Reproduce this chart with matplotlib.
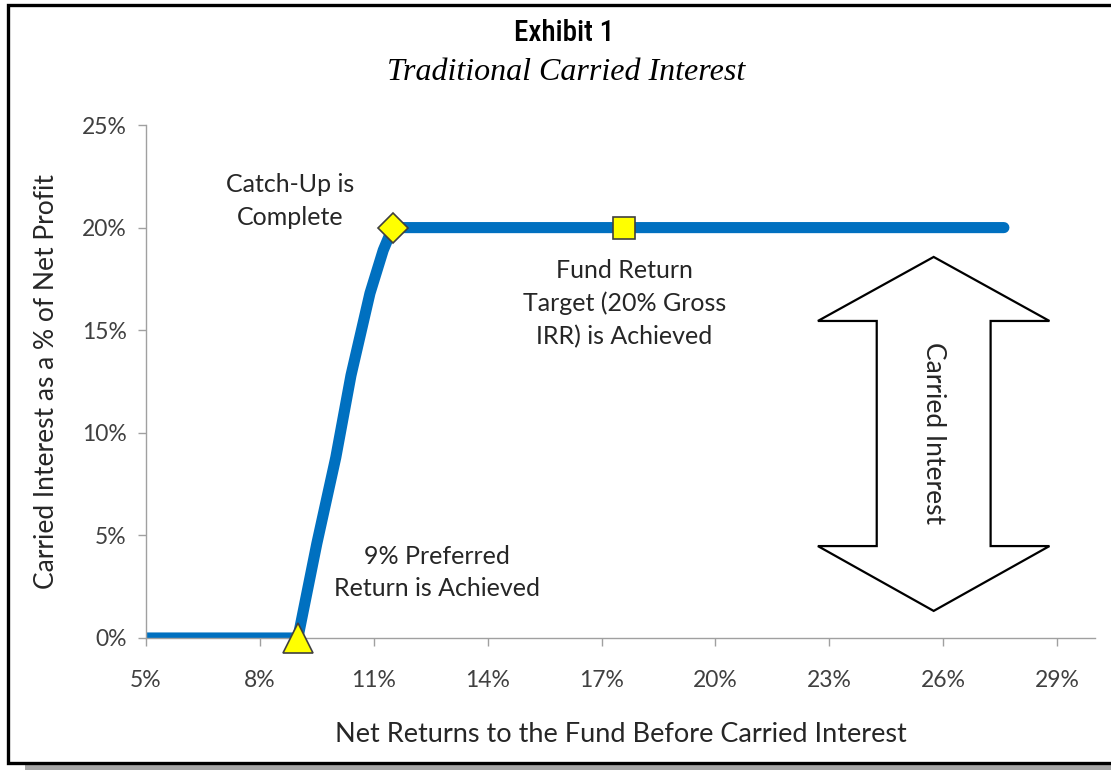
import matplotlib
matplotlib.use("Agg")
import matplotlib.pyplot as plt
from matplotlib.patches import Polygon, Rectangle
from matplotlib.ticker import FuncFormatter

# ── Data (percent) ──────────────────────────────────────────────────────── #
net_return = [5.0, 9.0, 9.5, 10.0, 10.4, 10.9, 11.25, 11.5, 17.6, 27.6]
carry = [0.0, 0.0, 4.6, 8.8, 12.8, 16.8, 18.9, 20.0, 20.0, 20.0]

pref_point = (9.0, 0.0)
catchup_point = (11.5, 20.0)
target_point = (17.6, 20.0)

x_ticks = [5, 8, 11, 14, 17, 20, 23, 26, 29]
y_ticks = [0, 5, 10, 15, 20, 25]

# double-headed block arrow (x in %, y in %)
arrow_cx = 25.75
arrow_head_half = 3.05
arrow_shaft_half = 1.5
arrow_top, arrow_head_top = 18.57, 15.45
arrow_bot, arrow_head_bot = 1.32, 4.48

BLUE = "#0070C0"
YELLOW = "#FFFF00"
BODY = ["Lato", "DejaVu Sans"]
TEXT = "#262626"

fig = plt.figure(figsize=(11.11, 7.7), dpi=100)

# outer frame with drop shadow
fig.patches.append(Rectangle((25 / 1111, 0), 1.0, 7 / 770, transform=fig.transFigure,
                             facecolor="#A6A6A6", edgecolor="none", zorder=-2))
fig.patches.append(Rectangle((8 / 1111, 7 / 770), 1.2, 758 / 770, transform=fig.transFigure,
                             facecolor="white", edgecolor="black", linewidth=2.4, zorder=-1))

ax = fig.add_axes([146 / 1111, 1 - 638 / 770, (1095 - 146) / 1111, (638 - 125) / 770])
ax.set_facecolor("none")

ax.plot(net_return, carry, color=BLUE, linewidth=8.0, solid_capstyle="round",
        solid_joinstyle="round", zorder=2)
ax.plot(*pref_point, marker="^", markersize=22, markerfacecolor=YELLOW,
        markeredgecolor="#404040", markeredgewidth=1.2, clip_on=False, zorder=4)
ax.plot(*catchup_point, marker="D", markersize=15, markerfacecolor=YELLOW,
        markeredgecolor="#404040", markeredgewidth=1.2, clip_on=False, zorder=4)
ax.plot(*target_point, marker="s", markersize=16, markerfacecolor=YELLOW,
        markeredgecolor="#404040", markeredgewidth=1.2, clip_on=False, zorder=4)

ax.set_xlim(5, 30)
ax.set_ylim(0, 25)
ax.set_xticks(x_ticks)
ax.set_yticks(y_ticks)
pct = FuncFormatter(lambda v, _: f"{v:.0f}%")
ax.xaxis.set_major_formatter(pct)
ax.yaxis.set_major_formatter(pct)
for s in ("top", "right"):
    ax.spines[s].set_visible(False)
for s in ("left", "bottom"):
    ax.spines[s].set_color("#A0A0A0")
    ax.spines[s].set_linewidth(1.0)
ax.tick_params(axis="both", colors="#A0A0A0", length=6, width=1.0,
               labelcolor="#404040", labelsize=16.5)
ax.tick_params(axis="x", pad=17)
ax.tick_params(axis="y", pad=8)
for lab in ax.get_xticklabels() + ax.get_yticklabels():
    lab.set_family(BODY)

ax.set_xlabel("Net Returns to the Fund Before Carried Interest", fontsize=19.5,
              family=BODY, color=TEXT, labelpad=22)
ax.set_ylabel("Carried Interest as a % of Net Profit", fontsize=19,
              family=BODY, color=TEXT, labelpad=16)

# block arrow
arrow_pts = [
    (arrow_cx, arrow_top),
    (arrow_cx + arrow_head_half, arrow_head_top),
    (arrow_cx + arrow_shaft_half, arrow_head_top),
    (arrow_cx + arrow_shaft_half, arrow_head_bot),
    (arrow_cx + arrow_head_half, arrow_head_bot),
    (arrow_cx, arrow_bot),
    (arrow_cx - arrow_head_half, arrow_head_bot),
    (arrow_cx - arrow_shaft_half, arrow_head_bot),
    (arrow_cx - arrow_shaft_half, arrow_head_top),
    (arrow_cx - arrow_head_half, arrow_head_top),
]
ax.add_patch(Polygon(arrow_pts, closed=True, facecolor="white", edgecolor="black",
                     linewidth=1.6, zorder=3))
ax.text(arrow_cx, 10.0, "Carried Interest", rotation=-90,
        ha="center", va="center", fontsize=19, family=BODY, color=TEXT, zorder=4)

# annotations
ax.text(8.79, 21.3, "Catch-Up is\nComplete", ha="center", va="center",
        fontsize=18, family=BODY, color=TEXT, linespacing=1.5)
ax.text(17.6, 16.3, "Fund Return\nTarget (20% Gross\nIRR) is Achieved", ha="center",
        va="center", fontsize=18, family=BODY, color=TEXT, linespacing=1.5)
ax.text(12.66, 3.2, "9% Preferred\nReturn is Achieved", ha="center", va="center",
        fontsize=18, family=BODY, color=TEXT, linespacing=1.5)

# titles
fig.text(564 / 1111, 1 - 33 / 770, "Exhibit 1", ha="center", va="center", fontsize=21,
         family=["Roboto Condensed", "DejaVu Sans"], fontstretch="condensed",
         fontweight="medium", color="black")
fig.text(566 / 1111, 1 - 72 / 770, "Traditional Carried Interest", ha="center",
         va="center", fontsize=23, style="italic",
         family=["Liberation Serif", "DejaVu Serif"], color="black")

fig.savefig("out.png", dpi=100)
